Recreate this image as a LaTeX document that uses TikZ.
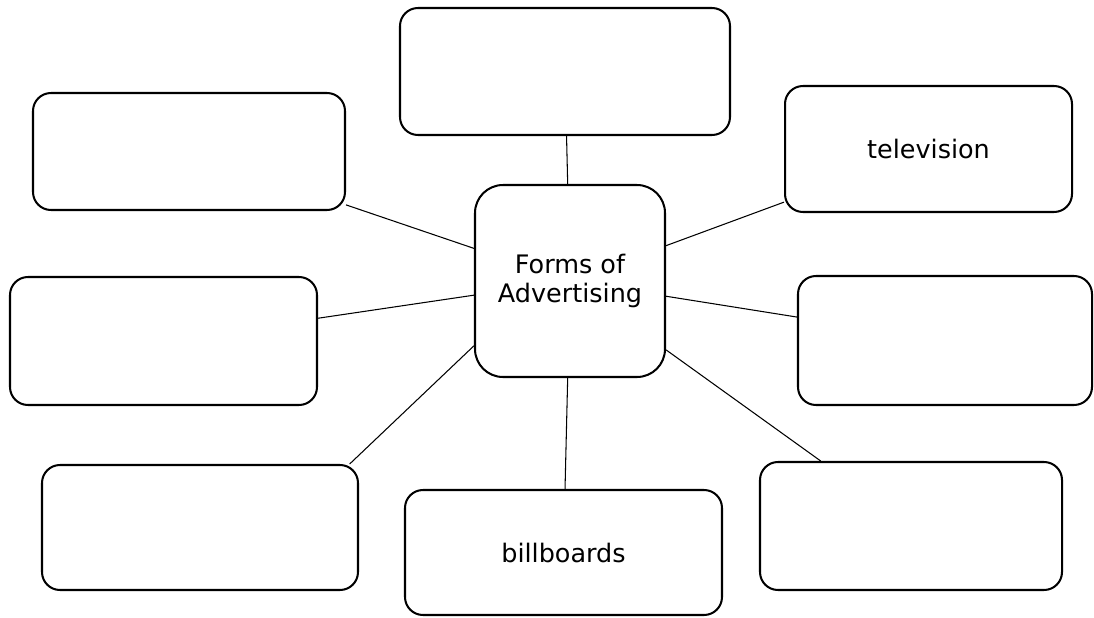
\documentclass[tikz,border=0pt]{standalone}
\usepackage{fontspec}
\setmainfont{DejaVu Sans}
\usepackage{tikz}

\begin{document}
\begin{tikzpicture}[
        box/.style = {draw = black, line width = 1.15pt, rounded corners = 0.36cm, align = center, inner sep = 0pt},
        link/.style = {line width = 0.6pt}
    ]
            \useasboundingbox (0,0) rectangle (21.88,12.34);
            \fontsize{14.5}{16.5}\selectfont

            % Centre
            \node[box, rounded corners = 0.56cm, minimum width = 3.80cm, minimum height = 3.84cm] (form-c) at (11.40, 6.72) {Forms of\\Advertising};

            % Outer boxes
            \node[box, minimum width = 6.60cm, minimum height = 2.54cm] (form-1) at (11.30, 10.91) {};
            \node[box, minimum width = 6.24cm, minimum height = 2.34cm] (form-2) at (3.78, 9.31) {};
            \node[box, minimum width = 5.74cm, minimum height = 2.52cm] (form-3) at (18.57, 9.36) {television};
            \node[box, minimum width = 6.14cm, minimum height = 2.56cm] (form-4) at (3.27, 5.52) {};
            \node[box, minimum width = 5.88cm, minimum height = 2.58cm] (form-5) at (18.90, 5.53) {};
            \node[box, minimum width = 6.32cm, minimum height = 2.50cm] (form-6) at (4.00, 1.79) {};
            \node[box, minimum width = 6.34cm, minimum height = 2.50cm] (form-7) at (11.27, 1.29) {billboards};
            \node[box, minimum width = 6.04cm, minimum height = 2.56cm] (form-8) at (18.22, 1.82) {};

            % Links
            \draw[link] (form-1) -- (form-c);
            \draw[link] (form-2) -- (form-c);
            \draw[link] (form-3) -- (form-c);
            \draw[link] (form-4) -- (form-c);
            \draw[link] (form-5) -- (form-c);
            \draw[link] (form-6.23) -- (form-c.214);
            \draw[link] (form-7) -- (form-c);
            \draw[link] (form-8) -- (form-c);
        \end{tikzpicture}
\end{document}
